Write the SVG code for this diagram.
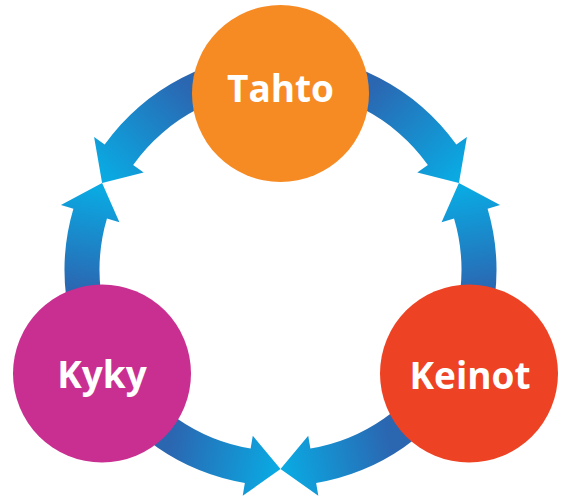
<svg xmlns="http://www.w3.org/2000/svg" width="565" height="504" viewBox="0 0 565 504">
  <style>
    .lbl { font-family: "Open Sans", "Noto Sans", "Liberation Sans", sans-serif; font-weight: 700; font-size: 37px; fill: #ffffff; text-anchor: middle; }
  </style>
  <defs>
    <linearGradient id="g1" gradientUnits="userSpaceOnUse" x1="195" y1="92" x2="108" y2="178">
      <stop offset="0" stop-color="#2B66B1"/><stop offset="1" stop-color="#0AA9E2"/>
    </linearGradient>
    <linearGradient id="g2" gradientUnits="userSpaceOnUse" x1="82" y1="292" x2="100" y2="190">
      <stop offset="0" stop-color="#2B66B1"/><stop offset="1" stop-color="#0AA9E2"/>
    </linearGradient>
    <linearGradient id="g3" gradientUnits="userSpaceOnUse" x1="170" y1="445" x2="276" y2="470">
      <stop offset="0" stop-color="#2B66B1"/><stop offset="1" stop-color="#0AA9E2"/>
    </linearGradient>
    <linearGradient id="g4" gradientUnits="userSpaceOnUse" x1="391" y1="445" x2="285" y2="470">
      <stop offset="0" stop-color="#2B66B1"/><stop offset="1" stop-color="#0AA9E2"/>
    </linearGradient>
    <linearGradient id="g5" gradientUnits="userSpaceOnUse" x1="479" y1="292" x2="461" y2="190">
      <stop offset="0" stop-color="#2B66B1"/><stop offset="1" stop-color="#0AA9E2"/>
    </linearGradient>
    <linearGradient id="g6" gradientUnits="userSpaceOnUse" x1="366" y1="92" x2="453" y2="178">
      <stop offset="0" stop-color="#2B66B1"/><stop offset="1" stop-color="#0AA9E2"/>
    </linearGradient>
  </defs>

  <g id="connectors">
    <path id="tahto-kyky" fill="url(#g1)" d="M 280.5 54 A 216 216 0 0 0 104.65 144.57 L 94.1 137 L 102.1 183 L 143.7 172.4 L 133.15 164.9 A 181 181 0 0 1 280.5 89 Z"/>
    <path id="kyky-tahto" fill="url(#g2)" d="M 93.44 378 A 216 216 0 0 1 73.4 208.66 L 60.93 204.96 L 102.1 183 L 119.42 222.29 L 106.96 218.6 A 181 181 0 0 0 123.75 360.5 Z"/>
    <path id="kyky-keinot" fill="url(#g3)" d="M 93.44 378 A 216 216 0 0 0 244.85 483 L 242.71 495.86 L 280.5 469 L 252.78 435.7 L 250.63 448.52 A 181 181 0 0 1 123.75 360.5 Z"/>
    <path id="keinot-kyky" fill="url(#g4)" d="M 467.56 378 A 216 216 0 0 1 316.15 483 L 318.29 495.86 L 280.5 469 L 308.22 435.7 L 310.37 448.52 A 181 181 0 0 0 437.25 360.5 Z"/>
    <path id="keinot-tahto" fill="url(#g5)" d="M 467.56 378 A 216 216 0 0 0 487.6 208.66 L 500.07 204.96 L 458.9 183 L 441.58 222.29 L 454.04 218.6 A 181 181 0 0 1 437.25 360.5 Z"/>
    <path id="tahto-keinot" fill="url(#g6)" d="M 280.5 54 A 216 216 0 0 1 456.35 144.57 L 466.9 137 L 458.9 183 L 417.3 172.4 L 427.85 164.9 A 181 181 0 0 0 280.5 89 Z"/>
  </g>

  <g id="tahto">
    <circle cx="280.5" cy="93.5" r="88.5" fill="#F68B24"/>
    <text class="lbl" x="280.5" y="102">Tahto</text>
  </g>
  <g id="kyky">
    <circle cx="102" cy="373.5" r="89" fill="#C92F91"/>
    <text class="lbl" x="102" y="388">Kyky</text>
  </g>
  <g id="keinot">
    <circle cx="469" cy="373.5" r="89" fill="#EE4224"/>
    <text class="lbl" x="470" y="389">Keinot</text>
  </g>
</svg>
